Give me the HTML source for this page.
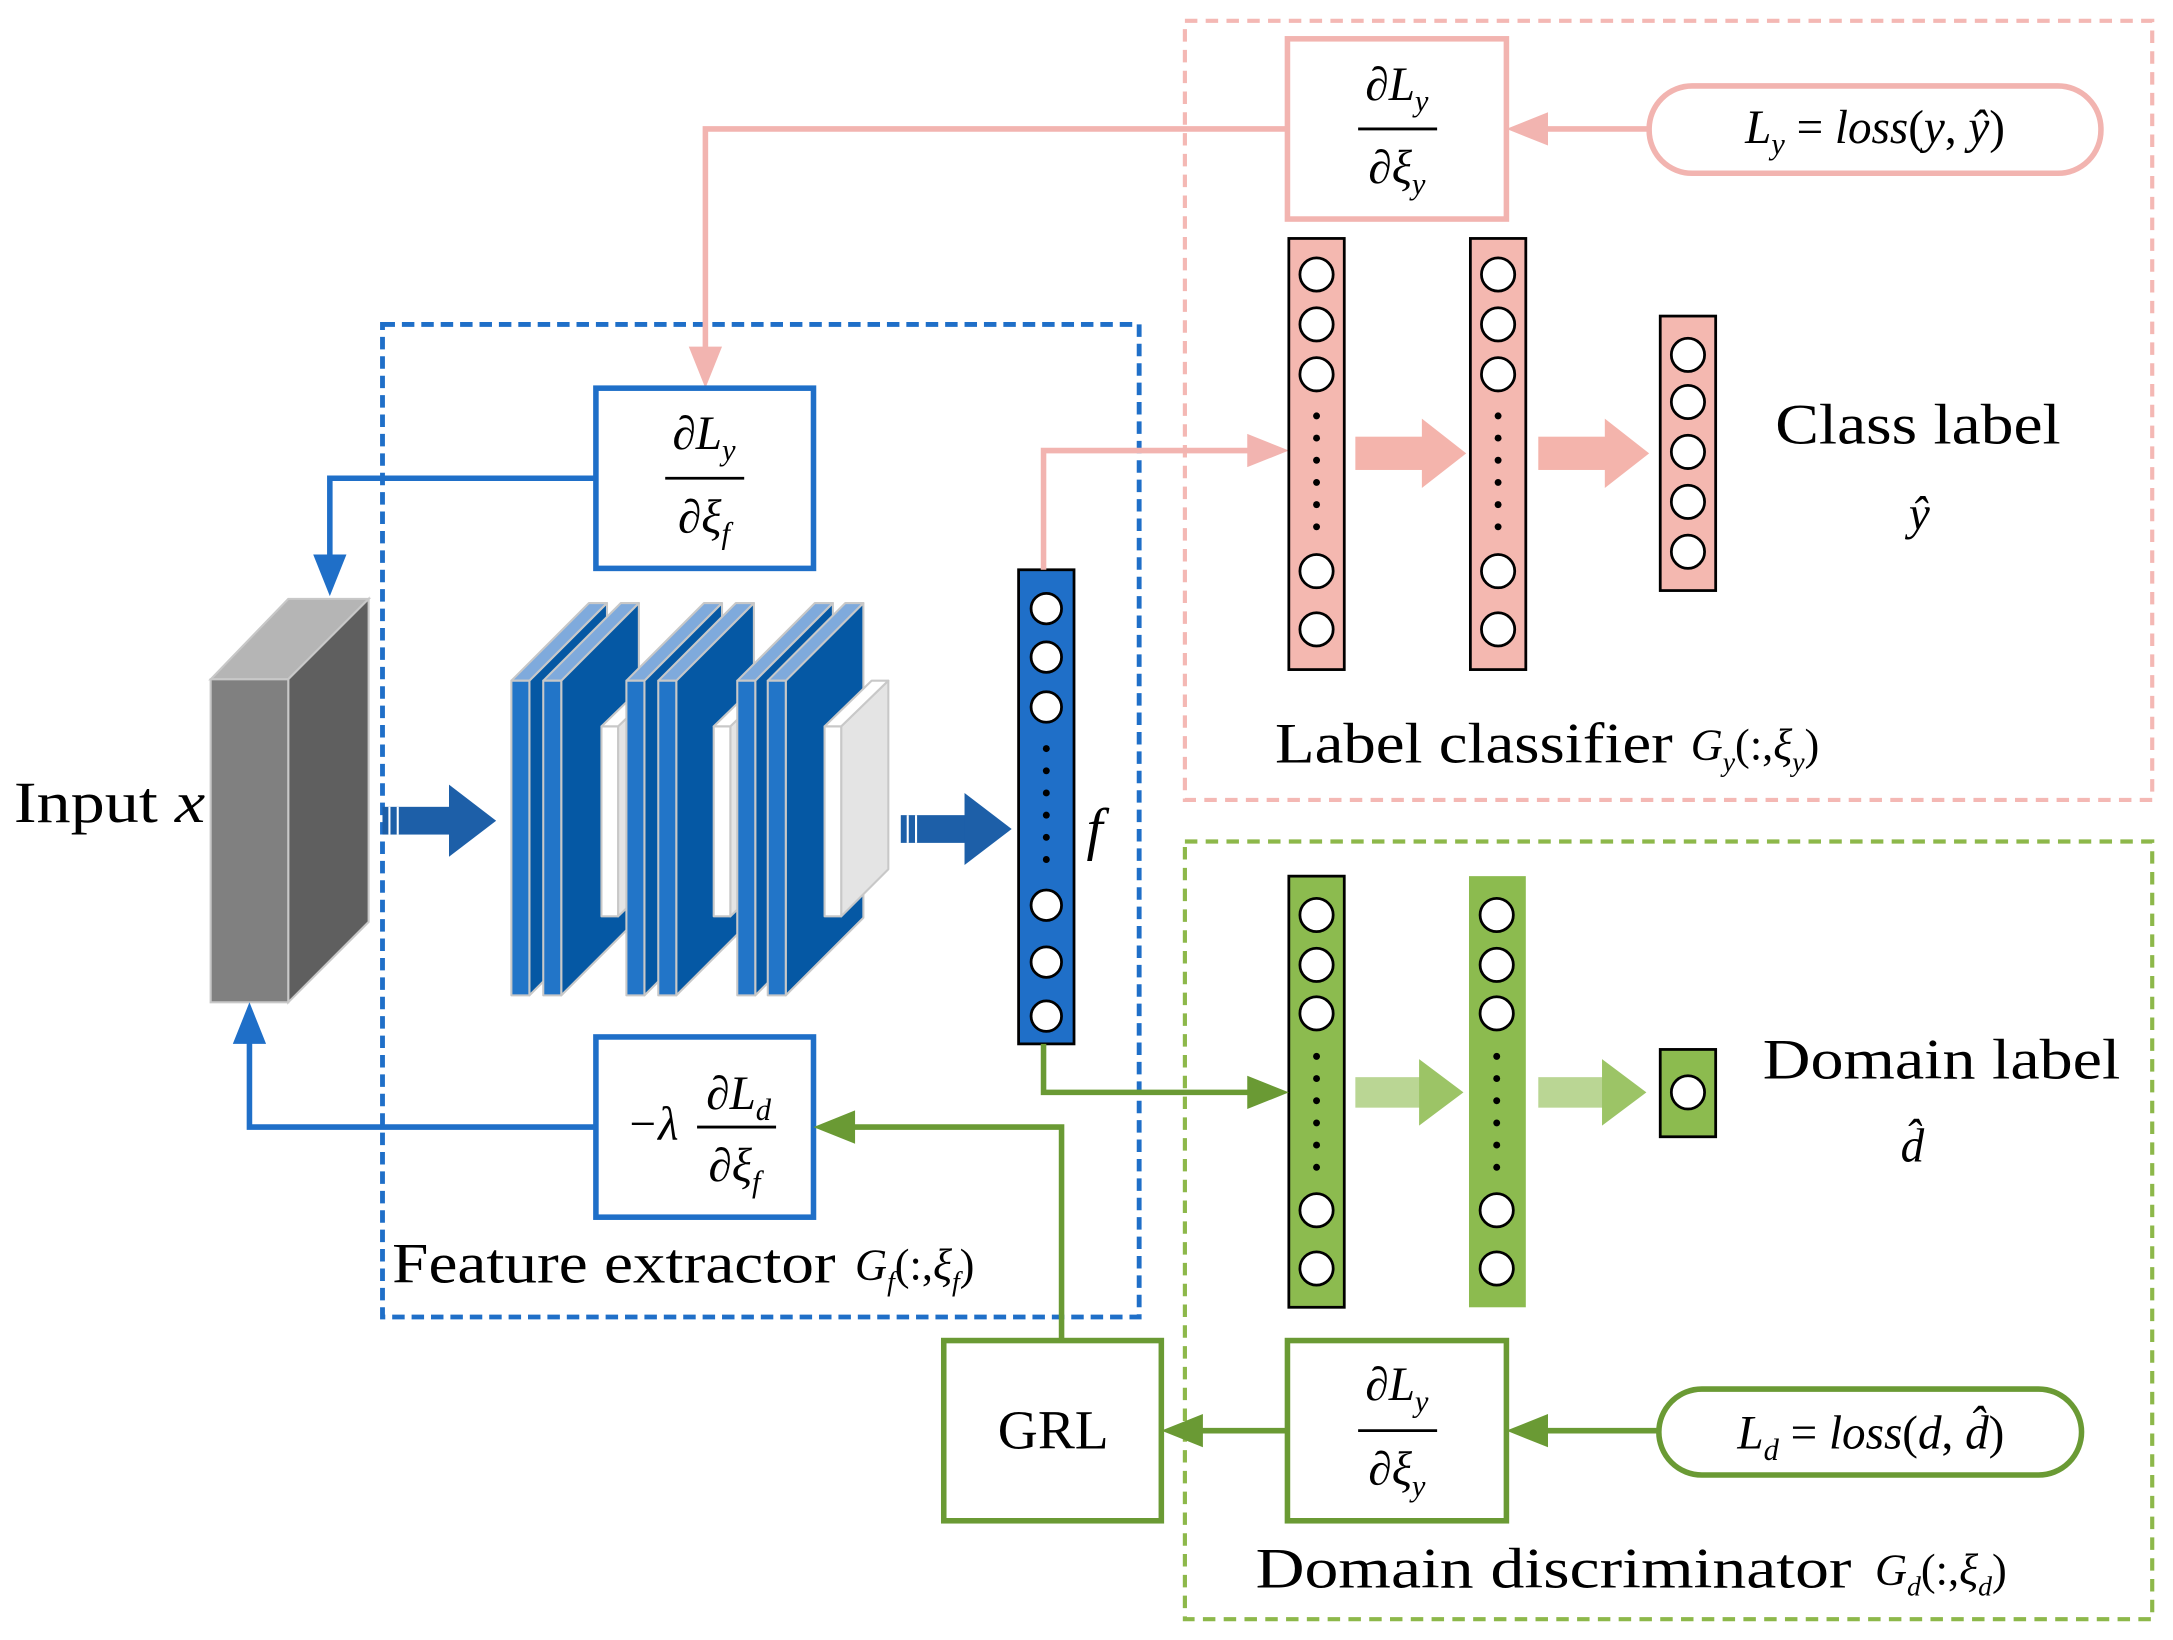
<!DOCTYPE html>
<html><head><meta charset="utf-8"><style>
html,body{margin:0;padding:0;background:#fff}
svg{display:block}
text{font-family:"Liberation Serif",serif;fill:#000}
.it{font-style:italic}
</style></head><body>
<svg width="2173" height="1640" viewBox="0 0 1568 1183" preserveAspectRatio="none" xmlns="http://www.w3.org/2000/svg">
<!-- dashed boxes -->
<rect x="855" y="15" width="698" height="562" fill="none" stroke="#f4b8b4" stroke-width="3" stroke-dasharray="9,6"/>
<rect x="855" y="607" width="698" height="561" fill="none" stroke="#8db84a" stroke-width="3" stroke-dasharray="9,6"/>
<rect x="276" y="234" width="546" height="716" fill="none" stroke="#1f6fc8" stroke-width="3.5" stroke-dasharray="9,5"/>

<!-- pink top -->
<rect x="929" y="28" width="158" height="130" fill="#fff" stroke="#f2b4b0" stroke-width="4"/>
<text x="1008" y="72" font-size="34" text-anchor="middle"><tspan>∂</tspan><tspan class="it">L</tspan><tspan class="it" font-size="22" dy="8">y</tspan></text>
<line x1="980" y1="93" x2="1037" y2="93" stroke="#000" stroke-width="2"/>
<text x="1008" y="132" font-size="34" text-anchor="middle"><tspan>∂</tspan><tspan class="it">ξ</tspan><tspan class="it" font-size="22" dy="8">y</tspan></text>
<rect x="1190" y="62" width="326" height="63" rx="31" fill="#fff" stroke="#f2b4b0" stroke-width="4"/>
<text x="1353" y="103" font-size="34" text-anchor="middle"><tspan class="it">L</tspan><tspan class="it" font-size="22" dy="8">y</tspan><tspan dy="-8"> = </tspan><tspan class="it">loss</tspan><tspan>(</tspan><tspan class="it">y</tspan><tspan>, </tspan><tspan class="it">ŷ</tspan><tspan>)</tspan></text>
<line x1="1190" y1="93" x2="1100" y2="93" stroke="#f2b4b0" stroke-width="4"/>
<path d="M1087,93 L1117,81 L1117,105 Z" fill="#f2b4b0"/>
<polyline points="929,93 509,93 509,262" fill="none" stroke="#f2b4b0" stroke-width="4"/>
<path d="M509,280 L497,250 L521,250 Z" fill="#f2b4b0"/>

<!-- blue box 1 -->
<rect x="430" y="280" width="157" height="130" fill="#fff" stroke="#1f6fc8" stroke-width="4"/>
<text x="508" y="324" font-size="34" text-anchor="middle"><tspan>∂</tspan><tspan class="it">L</tspan><tspan class="it" font-size="22" dy="8">y</tspan></text>
<line x1="480" y1="345" x2="537" y2="345" stroke="#000" stroke-width="2"/>
<text x="508" y="384" font-size="34" text-anchor="middle"><tspan>∂</tspan><tspan class="it">ξ</tspan><tspan class="it" font-size="22" dy="8">f</tspan></text>
<polyline points="430,345 238,345 238,410" fill="none" stroke="#1f6fc8" stroke-width="4"/>
<path d="M238,430 L226,400 L250,400 Z" fill="#1f6fc8"/>

<!-- input cube -->
<polygon points="152,490 208,432 266,432 208,490" fill="#b5b5b5" stroke="#c8c8c8" stroke-width="1.5"/>
<polygon points="208,490 266,432 266,665 208,723" fill="#5f5f5f" stroke="#c8c8c8" stroke-width="1.5"/>
<rect x="152" y="490" width="56" height="233" fill="#808080" stroke="#c8c8c8" stroke-width="1.5"/>
<text x="10" y="593" font-size="42" textLength="138" lengthAdjust="spacingAndGlyphs">Input <tspan class="it">x</tspan></text>

<!-- arrow 1 -->
<rect x="276" y="582" width="50" height="20" fill="#1d5fa8"/>
<line x1="281" y1="582" x2="281" y2="602" stroke="#fff" stroke-width="1.5"/>
<line x1="287" y1="582" x2="287" y2="602" stroke="#fff" stroke-width="1.5"/>
<path d="M324,566 L358,592 L324,618 Z" fill="#1d5fa8"/>

<!-- conv slabs -->
<g stroke="#c8c8c8" stroke-width="1.5" stroke-linejoin="round">
<!-- slab helper: front x, width 12, top 491, bottom 718, dx 56 dy -56 -->
<g>
<polygon points="382,491 438,435 438,662 382,718" fill="#0558a4"/>
<polygon points="369,491 425,435 438,435 382,491" fill="#7faadc"/>
<rect x="369" y="491" width="13" height="227" fill="#2275c8"/>
</g>
<g>
<polygon points="405,491 461,435 461,662 405,718" fill="#0558a4"/>
<polygon points="392,491 448,435 461,435 405,491" fill="#7faadc"/>
<rect x="392" y="491" width="13" height="227" fill="#2275c8"/>
</g>
<g>
<polygon points="446,524 481,490 481,627 446,661" fill="#e4e4e4"/>
<polygon points="434,524 469,490 481,490 446,524" fill="#fff"/>
<rect x="434" y="524" width="12" height="137" fill="#fff"/>
</g>
<g>
<polygon points="465,491 521,435 521,662 465,718" fill="#0558a4"/>
<polygon points="452,491 508,435 521,435 465,491" fill="#7faadc"/>
<rect x="452" y="491" width="13" height="227" fill="#2275c8"/>
</g>
<g>
<polygon points="488,491 544,435 544,662 488,718" fill="#0558a4"/>
<polygon points="475,491 531,435 544,435 488,491" fill="#7faadc"/>
<rect x="475" y="491" width="13" height="227" fill="#2275c8"/>
</g>
<g>
<polygon points="527,524 562,490 562,627 527,661" fill="#e4e4e4"/>
<polygon points="515,524 550,490 562,490 527,524" fill="#fff"/>
<rect x="515" y="524" width="12" height="137" fill="#fff"/>
</g>
<g>
<polygon points="545,491 601,435 601,662 545,718" fill="#0558a4"/>
<polygon points="532,491 588,435 601,435 545,491" fill="#7faadc"/>
<rect x="532" y="491" width="13" height="227" fill="#2275c8"/>
</g>
<g>
<polygon points="567,491 623,435 623,662 567,718" fill="#0558a4"/>
<polygon points="554,491 610,435 623,435 567,491" fill="#7faadc"/>
<rect x="554" y="491" width="13" height="227" fill="#2275c8"/>
</g>
<g>
<polygon points="607,524 641,491 641,627 607,661" fill="#e4e4e4"/>
<polygon points="595,524 629,491 641,491 607,524" fill="#fff"/>
<rect x="595" y="524" width="12" height="137" fill="#fff"/>
</g>
</g>

<!-- arrow 2 -->
<rect x="650" y="588" width="48" height="20" fill="#1d5fa8"/>
<line x1="655" y1="588" x2="655" y2="608" stroke="#fff" stroke-width="1.5"/>
<line x1="661" y1="588" x2="661" y2="608" stroke="#fff" stroke-width="1.5"/>
<path d="M696,572 L730,598 L696,624 Z" fill="#1d5fa8"/>

<!-- feature vector -->
<rect x="735" y="411" width="40" height="342" fill="#1f6fc8" stroke="#000" stroke-width="2"/>
<g fill="#fff" stroke="#000" stroke-width="2">
<circle cx="755" cy="439" r="11"/><circle cx="755" cy="474" r="11"/><circle cx="755" cy="510" r="11"/>
<circle cx="755" cy="653" r="11"/><circle cx="755" cy="694" r="11"/><circle cx="755" cy="733" r="11"/>
</g>
<g fill="#000"><circle cx="755" cy="540" r="2.5"/><circle cx="755" cy="556" r="2.5"/><circle cx="755" cy="572" r="2.5"/><circle cx="755" cy="588" r="2.5"/><circle cx="755" cy="604" r="2.5"/><circle cx="755" cy="620" r="2.5"/></g>
<text x="784" y="612" font-size="42" class="it">f</text>

<!-- pink to classifier -->
<polyline points="753,411 753,325 912,325" fill="none" stroke="#f2b4b0" stroke-width="4"/>
<path d="M930,325 L900,313 L900,337 Z" fill="#f2b4b0"/>

<!-- pink columns -->
<g stroke="#000" stroke-width="2">
<rect x="930" y="172" width="40" height="311" fill="#f4b8b0"/>
<rect x="1061" y="172" width="40" height="311" fill="#f4b8b0"/>
<rect x="1198" y="228" width="40" height="198" fill="#f4b8b0"/>
</g>
<g fill="#fff" stroke="#000" stroke-width="2">
<circle cx="950" cy="198" r="12"/><circle cx="950" cy="234" r="12"/><circle cx="950" cy="270" r="12"/><circle cx="950" cy="412" r="12"/><circle cx="950" cy="454" r="12"/>
<circle cx="1081" cy="198" r="12"/><circle cx="1081" cy="234" r="12"/><circle cx="1081" cy="270" r="12"/><circle cx="1081" cy="412" r="12"/><circle cx="1081" cy="454" r="12"/>
<circle cx="1218" cy="256" r="12"/><circle cx="1218" cy="290" r="12"/><circle cx="1218" cy="326" r="12"/><circle cx="1218" cy="362" r="12"/><circle cx="1218" cy="398" r="12"/>
</g>
<g fill="#000">
<circle cx="950" cy="300" r="2.5"/><circle cx="950" cy="316" r="2.5"/><circle cx="950" cy="332" r="2.5"/><circle cx="950" cy="348" r="2.5"/><circle cx="950" cy="364" r="2.5"/><circle cx="950" cy="380" r="2.5"/>
<circle cx="1081" cy="300" r="2.5"/><circle cx="1081" cy="316" r="2.5"/><circle cx="1081" cy="332" r="2.5"/><circle cx="1081" cy="348" r="2.5"/><circle cx="1081" cy="364" r="2.5"/><circle cx="1081" cy="380" r="2.5"/>
</g>
<g fill="#f4b4ac">
<rect x="978" y="315" width="50" height="24"/><path d="M1026,302 L1058,327 L1026,352 Z"/>
<rect x="1110" y="315" width="50" height="24"/><path d="M1158,302 L1190,327 L1158,352 Z"/>
</g>
<text x="1281" y="320" font-size="41" textLength="206" lengthAdjust="spacingAndGlyphs">Class label</text>
<text x="1385" y="382" font-size="34" class="it" text-anchor="middle">ŷ</text>
<text x="920" y="550" font-size="41" textLength="287" lengthAdjust="spacingAndGlyphs">Label classifier</text>
<text x="1220" y="548" font-size="32"><tspan class="it">G</tspan><tspan class="it" font-size="20" dy="8">y</tspan><tspan dy="-8">(:,</tspan><tspan class="it">ξ</tspan><tspan class="it" font-size="20" dy="8">y</tspan><tspan dy="-8">)</tspan></text>

<!-- green columns -->
<rect x="930" y="632" width="40" height="311" fill="#8cbb4f" stroke="#000" stroke-width="2"/>
<rect x="1060" y="632" width="41" height="311" fill="#8cbb4f"/>
<rect x="1198" y="757" width="40" height="63" fill="#8cbb4f" stroke="#000" stroke-width="2"/>
<g fill="#fff" stroke="#000" stroke-width="2">
<circle cx="950" cy="660" r="12"/><circle cx="950" cy="696" r="12"/><circle cx="950" cy="731" r="12"/><circle cx="950" cy="873" r="12"/><circle cx="950" cy="915" r="12"/>
<circle cx="1080" cy="660" r="12"/><circle cx="1080" cy="696" r="12"/><circle cx="1080" cy="731" r="12"/><circle cx="1080" cy="873" r="12"/><circle cx="1080" cy="915" r="12"/>
<circle cx="1218" cy="788" r="12"/>
</g>
<g fill="#000">
<circle cx="950" cy="762" r="2.5"/><circle cx="950" cy="778" r="2.5"/><circle cx="950" cy="794" r="2.5"/><circle cx="950" cy="810" r="2.5"/><circle cx="950" cy="826" r="2.5"/><circle cx="950" cy="842" r="2.5"/>
<circle cx="1080" cy="762" r="2.5"/><circle cx="1080" cy="778" r="2.5"/><circle cx="1080" cy="794" r="2.5"/><circle cx="1080" cy="810" r="2.5"/><circle cx="1080" cy="826" r="2.5"/><circle cx="1080" cy="842" r="2.5"/>
</g>
<g fill="#9cc466">
<rect x="978" y="777" width="48" height="22" opacity="0.7"/><path d="M1024,764 L1056,788 L1024,812 Z"/>
<rect x="1110" y="777" width="48" height="22" opacity="0.7"/><path d="M1156,764 L1188,788 L1156,812 Z"/>
</g>
<text x="1272" y="778" font-size="41" textLength="258" lengthAdjust="spacingAndGlyphs">Domain label</text>
<text x="1380" y="838" font-size="34" class="it" text-anchor="middle">d̂</text>

<polyline points="753,753 753,788 912,788" fill="none" stroke="#6a9a34" stroke-width="4"/>
<path d="M930,788 L900,776 L900,800 Z" fill="#6a9a34"/>

<!-- blue box 3 -->
<rect x="430" y="748" width="157" height="130" fill="#fff" stroke="#1f6fc8" stroke-width="4"/>
<text x="452" y="822" font-size="34" class="it">−λ</text>
<text x="533" y="800" font-size="34" text-anchor="middle"><tspan>∂</tspan><tspan class="it">L</tspan><tspan class="it" font-size="22" dy="8">d</tspan></text>
<line x1="503" y1="813" x2="560" y2="813" stroke="#000" stroke-width="2"/>
<text x="530" y="852" font-size="34" text-anchor="middle"><tspan>∂</tspan><tspan class="it">ξ</tspan><tspan class="it" font-size="22" dy="8">f</tspan></text>
<polyline points="430,813 180,813 180,745" fill="none" stroke="#1f6fc8" stroke-width="4"/>
<path d="M180,723 L168,753 L192,753 Z" fill="#1f6fc8"/>

<text x="283" y="925" font-size="41" textLength="320" lengthAdjust="spacingAndGlyphs">Feature extractor</text>
<text x="617" y="923" font-size="32"><tspan class="it">G</tspan><tspan class="it" font-size="20" dy="8">f</tspan><tspan dy="-8">(:,</tspan><tspan class="it">ξ</tspan><tspan class="it" font-size="20" dy="8">f</tspan><tspan dy="-8">)</tspan></text>

<!-- GRL -->
<polyline points="766,967 766,813 607,813" fill="none" stroke="#6a9a34" stroke-width="4"/>
<path d="M587,813 L617,801 L617,825 Z" fill="#6a9a34"/>
<rect x="681" y="967" width="157" height="130" fill="#fff" stroke="#6a9a34" stroke-width="4"/>
<text x="760" y="1045" font-size="40" text-anchor="middle">GRL</text>

<rect x="929" y="967" width="158" height="130" fill="#fff" stroke="#6a9a34" stroke-width="4"/>
<text x="1008" y="1010" font-size="34" text-anchor="middle"><tspan>∂</tspan><tspan class="it">L</tspan><tspan class="it" font-size="22" dy="8">y</tspan></text>
<line x1="980" y1="1032" x2="1037" y2="1032" stroke="#000" stroke-width="2"/>
<text x="1008" y="1071" font-size="34" text-anchor="middle"><tspan>∂</tspan><tspan class="it">ξ</tspan><tspan class="it" font-size="22" dy="8">y</tspan></text>
<line x1="929" y1="1032" x2="858" y2="1032" stroke="#6a9a34" stroke-width="4"/>
<path d="M838,1032 L868,1020 L868,1044 Z" fill="#6a9a34"/>

<rect x="1197" y="1002" width="305" height="62" rx="31" fill="#fff" stroke="#6a9a34" stroke-width="4"/>
<text x="1350" y="1045" font-size="34" text-anchor="middle"><tspan class="it">L</tspan><tspan class="it" font-size="22" dy="8">d</tspan><tspan dy="-8"> = </tspan><tspan class="it">loss</tspan><tspan>(</tspan><tspan class="it">d</tspan><tspan>, </tspan><tspan class="it">d̂</tspan><tspan>)</tspan></text>
<line x1="1197" y1="1032" x2="1107" y2="1032" stroke="#6a9a34" stroke-width="4"/>
<path d="M1087,1032 L1117,1020 L1117,1044 Z" fill="#6a9a34"/>

<text x="906" y="1145" font-size="41" textLength="430" lengthAdjust="spacingAndGlyphs">Domain discriminator</text>
<text x="1353" y="1143" font-size="32"><tspan class="it">G</tspan><tspan class="it" font-size="20" dy="8">d</tspan><tspan dy="-8">(:,</tspan><tspan class="it">ξ</tspan><tspan class="it" font-size="20" dy="8">d</tspan><tspan dy="-8">)</tspan></text>
</svg>
</body></html>
